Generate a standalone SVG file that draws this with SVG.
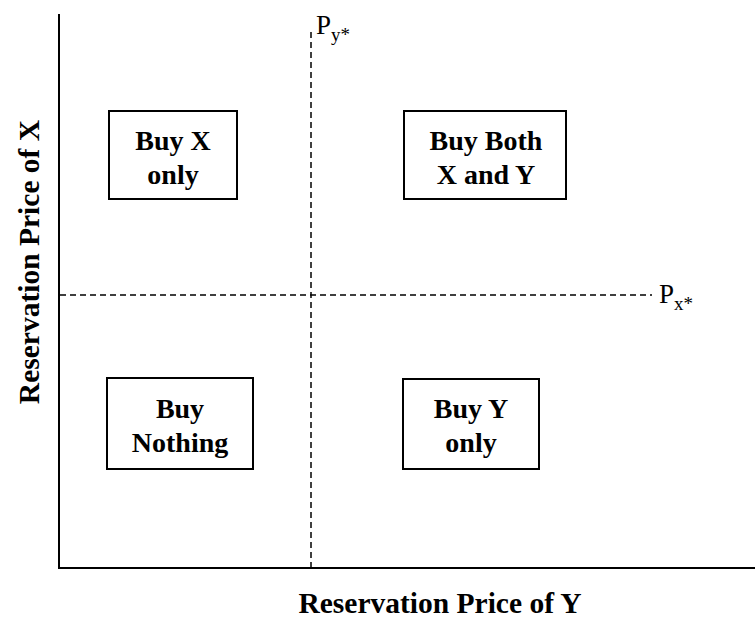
<svg xmlns="http://www.w3.org/2000/svg" width="755" height="620" viewBox="0 0 755 620">
<style>
.box{fill:#fff;stroke:#000;stroke-width:2}
.lbl{font-family:"Liberation Serif","Times New Roman",serif;font-weight:bold;font-size:28px;fill:#000;text-anchor:middle}
.ax{font-size:29.5px}
.axis{stroke:#000;stroke-width:2;fill:none}
.dash{stroke:#000;stroke-width:1.5;stroke-dasharray:6,4;fill:none}
.p{font-family:"Liberation Serif","Times New Roman",serif;font-size:27px;fill:#000}
.sub{font-size:19px}
</style>
<rect width="755" height="620" fill="#fff"/>
<g id="connectors">
<line class="axis" x1="59" y1="14" x2="59" y2="568"/>
<line class="axis" x1="58" y1="568" x2="755" y2="568"/>
<line class="dash" x1="311" y1="32" x2="311" y2="568"/>
<line class="dash" x1="60" y1="295" x2="652" y2="295"/>
</g>
<g id="py"><text class="p" x="316" y="34">P<tspan class="sub" dy="7">y*</tspan></text></g>
<g id="px"><text class="p" x="659" y="303">P<tspan class="sub" dy="7">x*</tspan></text></g>
<g id="buyx">
<rect class="box" x="109" y="111" width="128" height="88"/>
<text class="lbl" x="173" y="150">Buy X</text>
<text class="lbl" x="173" y="184">only</text>
</g>
<g id="buyboth">
<rect class="box" x="404" y="111" width="162" height="88"/>
<text class="lbl" x="486" y="150">Buy Both</text>
<text class="lbl" x="486" y="184">X and Y</text>
</g>
<g id="buynothing">
<rect class="box" x="107" y="378" width="146" height="91"/>
<text class="lbl" x="180" y="418">Buy</text>
<text class="lbl" x="180" y="452">Nothing</text>
</g>
<g id="buyy">
<rect class="box" x="403" y="379" width="136" height="90"/>
<text class="lbl" x="471" y="418">Buy Y</text>
<text class="lbl" x="471" y="452">only</text>
</g>
<g id="xlabel"><text class="lbl ax" x="440" y="613">Reservation Price of Y</text></g>
<g id="ylabel"><text class="lbl ax" transform="translate(39,262) rotate(-90)" x="0" y="0">Reservation Price of X</text></g>
</svg>
